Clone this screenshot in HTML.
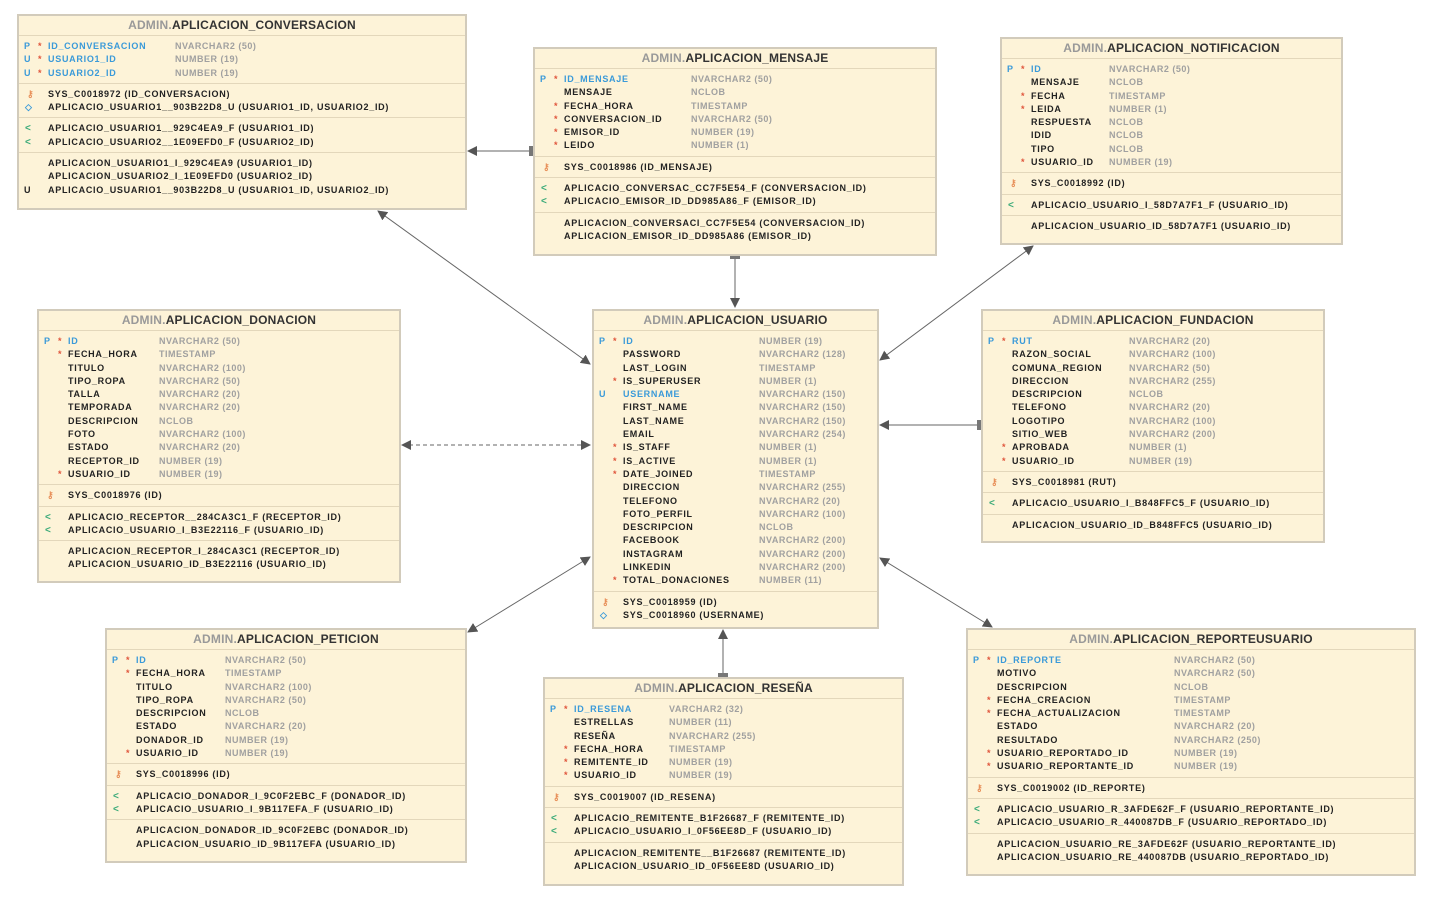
<!DOCTYPE html>
<html><head><meta charset="utf-8"><style>
body{margin:0;width:1437px;height:897px;background:#fff;position:relative;overflow:hidden;font-family:"Liberation Sans",sans-serif}
.t{position:absolute;background:#fdf3d8;border:2px solid #d2cbbb;box-sizing:border-box;font-weight:bold;font-size:9px;letter-spacing:0.72px;color:#222}
.h{height:19px;line-height:19px;text-align:center;font-size:12px;font-weight:bold;letter-spacing:0.2px;color:#333;border-bottom:1px solid #e3d7bb}
.h span{color:#999}
.s{padding:4px 0 3px;border-bottom:1px solid #e3d7bb}
.s:first-of-type{padding-top:5px}
.s:last-child{border-bottom:none}
.r{position:relative;height:13.3px;line-height:13.3px;white-space:nowrap}
.r a{position:absolute;top:0}
.f{left:5px;color:#3a9ad9}
.k{left:19px;color:#e0553c}
.n{left:29px}
.b{color:#3a9ad9}
.y{color:#a0a0a0;letter-spacing:0.5px}
.ik{left:8px;color:#e8905a;font-size:9px}
.ig{left:6px;color:#3aaa78;font-size:10px}
.iu{left:6px;color:#3a9ad9;font-size:9px}
</style></head><body>
<svg width="1437" height="897" style="position:absolute;left:0;top:0">
<defs>
<marker id="a" markerWidth="10" markerHeight="10" refX="9" refY="5" orient="auto-start-reverse" markerUnits="userSpaceOnUse"><path d="M0,0 L10,5 L0,10 z" fill="#555"/></marker>
<marker id="br" markerWidth="4" markerHeight="10" refX="2" refY="5" orient="auto" markerUnits="userSpaceOnUse"><rect x="0" y="0" width="4" height="10" fill="#777"/></marker>
</defs>
<g stroke="#666" stroke-width="1" fill="none">
<line x1="531" y1="151" x2="468" y2="151" marker-start="url(#br)" marker-end="url(#a)"/>
<line x1="378" y1="211" x2="590" y2="364" marker-start="url(#a)" marker-end="url(#a)"/>
<line x1="735" y1="257" x2="735" y2="307" marker-start="url(#br)" marker-end="url(#a)"/>
<line x1="1033" y1="246" x2="880" y2="360" marker-start="url(#a)" marker-end="url(#a)"/>
<line x1="402" y1="445" x2="590" y2="445" stroke-dasharray="4,3" marker-start="url(#a)" marker-end="url(#a)"/>
<line x1="979" y1="425" x2="880" y2="425" marker-start="url(#br)" marker-end="url(#a)"/>
<line x1="468" y1="632" x2="590" y2="557" marker-start="url(#a)" marker-end="url(#a)"/>
<line x1="723" y1="675" x2="723" y2="630" marker-start="url(#br)" marker-end="url(#a)"/>
<line x1="992" y1="627" x2="880" y2="558" marker-start="url(#a)" marker-end="url(#a)"/>
</g>
</svg>

<!-- CONVERSACION -->
<div class="t" style="left:17px;top:14px;width:450px;height:196px">
<div class="h"><span>ADMIN.</span>APLICACION_CONVERSACION</div>
<div class="s">
<div class="r"><a class="f">P</a><a class="k">*</a><a class="n b">ID_CONVERSACION</a><a class="y" style="left:156px">NVARCHAR2 (50)</a></div>
<div class="r"><a class="f">U</a><a class="k">*</a><a class="n b">USUARIO1_ID</a><a class="y" style="left:156px">NUMBER (19)</a></div>
<div class="r"><a class="f">U</a><a class="k">*</a><a class="n b">USUARIO2_ID</a><a class="y" style="left:156px">NUMBER (19)</a></div>
</div>
<div class="s">
<div class="r"><a class="ik">⚷</a><a class="n">SYS_C0018972 (ID_CONVERSACION)</a></div>
<div class="r"><a class="iu">◇</a><a class="n">APLICACIO_USUARIO1__903B22D8_U (USUARIO1_ID, USUARIO2_ID)</a></div>
</div>
<div class="s">
<div class="r"><a class="ig">&lt;</a><a class="n">APLICACIO_USUARIO1__929C4EA9_F (USUARIO1_ID)</a></div>
<div class="r"><a class="ig">&lt;</a><a class="n">APLICACIO_USUARIO2__1E09EFD0_F (USUARIO2_ID)</a></div>
</div>
<div class="s">
<div class="r"><a class="n">APLICACION_USUARIO1_I_929C4EA9 (USUARIO1_ID)</a></div>
<div class="r"><a class="n">APLICACION_USUARIO2_I_1E09EFD0 (USUARIO2_ID)</a></div>
<div class="r"><a class="f" style="color:#222">U</a><a class="n">APLICACIO_USUARIO1__903B22D8_U (USUARIO1_ID, USUARIO2_ID)</a></div>
</div>
</div>

<!-- MENSAJE -->
<div class="t" style="left:533px;top:47px;width:404px;height:209px">
<div class="h"><span>ADMIN.</span>APLICACION_MENSAJE</div>
<div class="s">
<div class="r"><a class="f">P</a><a class="k">*</a><a class="n b">ID_MENSAJE</a><a class="y" style="left:156px">NVARCHAR2 (50)</a></div>
<div class="r"><a class="n">MENSAJE</a><a class="y" style="left:156px">NCLOB</a></div>
<div class="r"><a class="k">*</a><a class="n">FECHA_HORA</a><a class="y" style="left:156px">TIMESTAMP</a></div>
<div class="r"><a class="k">*</a><a class="n">CONVERSACION_ID</a><a class="y" style="left:156px">NVARCHAR2 (50)</a></div>
<div class="r"><a class="k">*</a><a class="n">EMISOR_ID</a><a class="y" style="left:156px">NUMBER (19)</a></div>
<div class="r"><a class="k">*</a><a class="n">LEIDO</a><a class="y" style="left:156px">NUMBER (1)</a></div>
</div>
<div class="s">
<div class="r"><a class="ik">⚷</a><a class="n">SYS_C0018986 (ID_MENSAJE)</a></div>
</div>
<div class="s">
<div class="r"><a class="ig">&lt;</a><a class="n">APLICACIO_CONVERSAC_CC7F5E54_F (CONVERSACION_ID)</a></div>
<div class="r"><a class="ig">&lt;</a><a class="n">APLICACIO_EMISOR_ID_DD985A86_F (EMISOR_ID)</a></div>
</div>
<div class="s">
<div class="r"><a class="n">APLICACION_CONVERSACI_CC7F5E54 (CONVERSACION_ID)</a></div>
<div class="r"><a class="n">APLICACION_EMISOR_ID_DD985A86 (EMISOR_ID)</a></div>
</div>
</div>

<!-- NOTIFICACION -->
<div class="t" style="left:1000px;top:37px;width:343px;height:208px">
<div class="h"><span>ADMIN.</span>APLICACION_NOTIFICACION</div>
<div class="s">
<div class="r"><a class="f">P</a><a class="k">*</a><a class="n b">ID</a><a class="y" style="left:107px">NVARCHAR2 (50)</a></div>
<div class="r"><a class="n">MENSAJE</a><a class="y" style="left:107px">NCLOB</a></div>
<div class="r"><a class="k">*</a><a class="n">FECHA</a><a class="y" style="left:107px">TIMESTAMP</a></div>
<div class="r"><a class="k">*</a><a class="n">LEIDA</a><a class="y" style="left:107px">NUMBER (1)</a></div>
<div class="r"><a class="n">RESPUESTA</a><a class="y" style="left:107px">NCLOB</a></div>
<div class="r"><a class="n">IDID</a><a class="y" style="left:107px">NCLOB</a></div>
<div class="r"><a class="n">TIPO</a><a class="y" style="left:107px">NCLOB</a></div>
<div class="r"><a class="k">*</a><a class="n">USUARIO_ID</a><a class="y" style="left:107px">NUMBER (19)</a></div>
</div>
<div class="s">
<div class="r"><a class="ik">⚷</a><a class="n">SYS_C0018992 (ID)</a></div>
</div>
<div class="s">
<div class="r"><a class="ig">&lt;</a><a class="n">APLICACIO_USUARIO_I_58D7A7F1_F (USUARIO_ID)</a></div>
</div>
<div class="s">
<div class="r"><a class="n">APLICACION_USUARIO_ID_58D7A7F1 (USUARIO_ID)</a></div>
</div>
</div>

<!-- DONACION -->
<div class="t" style="left:37px;top:309px;width:364px;height:274px">
<div class="h"><span>ADMIN.</span>APLICACION_DONACION</div>
<div class="s">
<div class="r"><a class="f">P</a><a class="k">*</a><a class="n b">ID</a><a class="y" style="left:120px">NVARCHAR2 (50)</a></div>
<div class="r"><a class="k">*</a><a class="n">FECHA_HORA</a><a class="y" style="left:120px">TIMESTAMP</a></div>
<div class="r"><a class="n">TITULO</a><a class="y" style="left:120px">NVARCHAR2 (100)</a></div>
<div class="r"><a class="n">TIPO_ROPA</a><a class="y" style="left:120px">NVARCHAR2 (50)</a></div>
<div class="r"><a class="n">TALLA</a><a class="y" style="left:120px">NVARCHAR2 (20)</a></div>
<div class="r"><a class="n">TEMPORADA</a><a class="y" style="left:120px">NVARCHAR2 (20)</a></div>
<div class="r"><a class="n">DESCRIPCION</a><a class="y" style="left:120px">NCLOB</a></div>
<div class="r"><a class="n">FOTO</a><a class="y" style="left:120px">NVARCHAR2 (100)</a></div>
<div class="r"><a class="n">ESTADO</a><a class="y" style="left:120px">NVARCHAR2 (20)</a></div>
<div class="r"><a class="n">RECEPTOR_ID</a><a class="y" style="left:120px">NUMBER (19)</a></div>
<div class="r"><a class="k">*</a><a class="n">USUARIO_ID</a><a class="y" style="left:120px">NUMBER (19)</a></div>
</div>
<div class="s">
<div class="r"><a class="ik">⚷</a><a class="n">SYS_C0018976 (ID)</a></div>
</div>
<div class="s">
<div class="r"><a class="ig">&lt;</a><a class="n">APLICACIO_RECEPTOR__284CA3C1_F (RECEPTOR_ID)</a></div>
<div class="r"><a class="ig">&lt;</a><a class="n">APLICACIO_USUARIO_I_B3E22116_F (USUARIO_ID)</a></div>
</div>
<div class="s">
<div class="r"><a class="n">APLICACION_RECEPTOR_I_284CA3C1 (RECEPTOR_ID)</a></div>
<div class="r"><a class="n">APLICACION_USUARIO_ID_B3E22116 (USUARIO_ID)</a></div>
</div>
</div>

<!-- USUARIO -->
<div class="t" style="left:592px;top:309px;width:287px;height:320px">
<div class="h"><span>ADMIN.</span>APLICACION_USUARIO</div>
<div class="s">
<div class="r"><a class="f">P</a><a class="k">*</a><a class="n b">ID</a><a class="y" style="left:165px">NUMBER (19)</a></div>
<div class="r"><a class="n">PASSWORD</a><a class="y" style="left:165px">NVARCHAR2 (128)</a></div>
<div class="r"><a class="n">LAST_LOGIN</a><a class="y" style="left:165px">TIMESTAMP</a></div>
<div class="r"><a class="k">*</a><a class="n">IS_SUPERUSER</a><a class="y" style="left:165px">NUMBER (1)</a></div>
<div class="r"><a class="f">U</a><a class="n b">USERNAME</a><a class="y" style="left:165px">NVARCHAR2 (150)</a></div>
<div class="r"><a class="n">FIRST_NAME</a><a class="y" style="left:165px">NVARCHAR2 (150)</a></div>
<div class="r"><a class="n">LAST_NAME</a><a class="y" style="left:165px">NVARCHAR2 (150)</a></div>
<div class="r"><a class="n">EMAIL</a><a class="y" style="left:165px">NVARCHAR2 (254)</a></div>
<div class="r"><a class="k">*</a><a class="n">IS_STAFF</a><a class="y" style="left:165px">NUMBER (1)</a></div>
<div class="r"><a class="k">*</a><a class="n">IS_ACTIVE</a><a class="y" style="left:165px">NUMBER (1)</a></div>
<div class="r"><a class="k">*</a><a class="n">DATE_JOINED</a><a class="y" style="left:165px">TIMESTAMP</a></div>
<div class="r"><a class="n">DIRECCION</a><a class="y" style="left:165px">NVARCHAR2 (255)</a></div>
<div class="r"><a class="n">TELEFONO</a><a class="y" style="left:165px">NVARCHAR2 (20)</a></div>
<div class="r"><a class="n">FOTO_PERFIL</a><a class="y" style="left:165px">NVARCHAR2 (100)</a></div>
<div class="r"><a class="n">DESCRIPCION</a><a class="y" style="left:165px">NCLOB</a></div>
<div class="r"><a class="n">FACEBOOK</a><a class="y" style="left:165px">NVARCHAR2 (200)</a></div>
<div class="r"><a class="n">INSTAGRAM</a><a class="y" style="left:165px">NVARCHAR2 (200)</a></div>
<div class="r"><a class="n">LINKEDIN</a><a class="y" style="left:165px">NVARCHAR2 (200)</a></div>
<div class="r"><a class="k">*</a><a class="n">TOTAL_DONACIONES</a><a class="y" style="left:165px">NUMBER (11)</a></div>
</div>
<div class="s">
<div class="r"><a class="ik">⚷</a><a class="n">SYS_C0018959 (ID)</a></div>
<div class="r"><a class="iu">◇</a><a class="n">SYS_C0018960 (USERNAME)</a></div>
</div>
</div>

<!-- FUNDACION -->
<div class="t" style="left:981px;top:309px;width:344px;height:234px">
<div class="h"><span>ADMIN.</span>APLICACION_FUNDACION</div>
<div class="s">
<div class="r"><a class="f">P</a><a class="k">*</a><a class="n b">RUT</a><a class="y" style="left:146px">NVARCHAR2 (20)</a></div>
<div class="r"><a class="n">RAZON_SOCIAL</a><a class="y" style="left:146px">NVARCHAR2 (100)</a></div>
<div class="r"><a class="n">COMUNA_REGION</a><a class="y" style="left:146px">NVARCHAR2 (50)</a></div>
<div class="r"><a class="n">DIRECCION</a><a class="y" style="left:146px">NVARCHAR2 (255)</a></div>
<div class="r"><a class="n">DESCRIPCION</a><a class="y" style="left:146px">NCLOB</a></div>
<div class="r"><a class="n">TELEFONO</a><a class="y" style="left:146px">NVARCHAR2 (20)</a></div>
<div class="r"><a class="n">LOGOTIPO</a><a class="y" style="left:146px">NVARCHAR2 (100)</a></div>
<div class="r"><a class="n">SITIO_WEB</a><a class="y" style="left:146px">NVARCHAR2 (200)</a></div>
<div class="r"><a class="k">*</a><a class="n">APROBADA</a><a class="y" style="left:146px">NUMBER (1)</a></div>
<div class="r"><a class="k">*</a><a class="n">USUARIO_ID</a><a class="y" style="left:146px">NUMBER (19)</a></div>
</div>
<div class="s">
<div class="r"><a class="ik">⚷</a><a class="n">SYS_C0018981 (RUT)</a></div>
</div>
<div class="s">
<div class="r"><a class="ig">&lt;</a><a class="n">APLICACIO_USUARIO_I_B848FFC5_F (USUARIO_ID)</a></div>
</div>
<div class="s">
<div class="r"><a class="n">APLICACION_USUARIO_ID_B848FFC5 (USUARIO_ID)</a></div>
</div>
</div>

<!-- PETICION -->
<div class="t" style="left:105px;top:628px;width:362px;height:235px">
<div class="h"><span>ADMIN.</span>APLICACION_PETICION</div>
<div class="s">
<div class="r"><a class="f">P</a><a class="k">*</a><a class="n b">ID</a><a class="y" style="left:118px">NVARCHAR2 (50)</a></div>
<div class="r"><a class="k">*</a><a class="n">FECHA_HORA</a><a class="y" style="left:118px">TIMESTAMP</a></div>
<div class="r"><a class="n">TITULO</a><a class="y" style="left:118px">NVARCHAR2 (100)</a></div>
<div class="r"><a class="n">TIPO_ROPA</a><a class="y" style="left:118px">NVARCHAR2 (50)</a></div>
<div class="r"><a class="n">DESCRIPCION</a><a class="y" style="left:118px">NCLOB</a></div>
<div class="r"><a class="n">ESTADO</a><a class="y" style="left:118px">NVARCHAR2 (20)</a></div>
<div class="r"><a class="n">DONADOR_ID</a><a class="y" style="left:118px">NUMBER (19)</a></div>
<div class="r"><a class="k">*</a><a class="n">USUARIO_ID</a><a class="y" style="left:118px">NUMBER (19)</a></div>
</div>
<div class="s">
<div class="r"><a class="ik">⚷</a><a class="n">SYS_C0018996 (ID)</a></div>
</div>
<div class="s">
<div class="r"><a class="ig">&lt;</a><a class="n">APLICACIO_DONADOR_I_9C0F2EBC_F (DONADOR_ID)</a></div>
<div class="r"><a class="ig">&lt;</a><a class="n">APLICACIO_USUARIO_I_9B117EFA_F (USUARIO_ID)</a></div>
</div>
<div class="s">
<div class="r"><a class="n">APLICACION_DONADOR_ID_9C0F2EBC (DONADOR_ID)</a></div>
<div class="r"><a class="n">APLICACION_USUARIO_ID_9B117EFA (USUARIO_ID)</a></div>
</div>
</div>

<!-- RESENA -->
<div class="t" style="left:543px;top:677px;width:361px;height:209px">
<div class="h"><span>ADMIN.</span>APLICACION_RESEÑA</div>
<div class="s">
<div class="r"><a class="f">P</a><a class="k">*</a><a class="n b">ID_RESENA</a><a class="y" style="left:124px">VARCHAR2 (32)</a></div>
<div class="r"><a class="n">ESTRELLAS</a><a class="y" style="left:124px">NUMBER (11)</a></div>
<div class="r"><a class="n">RESEÑA</a><a class="y" style="left:124px">NVARCHAR2 (255)</a></div>
<div class="r"><a class="k">*</a><a class="n">FECHA_HORA</a><a class="y" style="left:124px">TIMESTAMP</a></div>
<div class="r"><a class="k">*</a><a class="n">REMITENTE_ID</a><a class="y" style="left:124px">NUMBER (19)</a></div>
<div class="r"><a class="k">*</a><a class="n">USUARIO_ID</a><a class="y" style="left:124px">NUMBER (19)</a></div>
</div>
<div class="s">
<div class="r"><a class="ik">⚷</a><a class="n">SYS_C0019007 (ID_RESENA)</a></div>
</div>
<div class="s">
<div class="r"><a class="ig">&lt;</a><a class="n">APLICACIO_REMITENTE_B1F26687_F (REMITENTE_ID)</a></div>
<div class="r"><a class="ig">&lt;</a><a class="n">APLICACIO_USUARIO_I_0F56EE8D_F (USUARIO_ID)</a></div>
</div>
<div class="s">
<div class="r"><a class="n">APLICACION_REMITENTE__B1F26687 (REMITENTE_ID)</a></div>
<div class="r"><a class="n">APLICACION_USUARIO_ID_0F56EE8D (USUARIO_ID)</a></div>
</div>
</div>

<!-- REPORTEUSUARIO -->
<div class="t" style="left:966px;top:628px;width:450px;height:248px">
<div class="h"><span>ADMIN.</span>APLICACION_REPORTEUSUARIO</div>
<div class="s">
<div class="r"><a class="f">P</a><a class="k">*</a><a class="n b">ID_REPORTE</a><a class="y" style="left:206px">NVARCHAR2 (50)</a></div>
<div class="r"><a class="n">MOTIVO</a><a class="y" style="left:206px">NVARCHAR2 (50)</a></div>
<div class="r"><a class="n">DESCRIPCION</a><a class="y" style="left:206px">NCLOB</a></div>
<div class="r"><a class="k">*</a><a class="n">FECHA_CREACION</a><a class="y" style="left:206px">TIMESTAMP</a></div>
<div class="r"><a class="k">*</a><a class="n">FECHA_ACTUALIZACION</a><a class="y" style="left:206px">TIMESTAMP</a></div>
<div class="r"><a class="n">ESTADO</a><a class="y" style="left:206px">NVARCHAR2 (20)</a></div>
<div class="r"><a class="n">RESULTADO</a><a class="y" style="left:206px">NVARCHAR2 (250)</a></div>
<div class="r"><a class="k">*</a><a class="n">USUARIO_REPORTADO_ID</a><a class="y" style="left:206px">NUMBER (19)</a></div>
<div class="r"><a class="k">*</a><a class="n">USUARIO_REPORTANTE_ID</a><a class="y" style="left:206px">NUMBER (19)</a></div>
</div>
<div class="s">
<div class="r"><a class="ik">⚷</a><a class="n">SYS_C0019002 (ID_REPORTE)</a></div>
</div>
<div class="s">
<div class="r"><a class="ig">&lt;</a><a class="n">APLICACIO_USUARIO_R_3AFDE62F_F (USUARIO_REPORTANTE_ID)</a></div>
<div class="r"><a class="ig">&lt;</a><a class="n">APLICACIO_USUARIO_R_440087DB_F (USUARIO_REPORTADO_ID)</a></div>
</div>
<div class="s">
<div class="r"><a class="n">APLICACION_USUARIO_RE_3AFDE62F (USUARIO_REPORTANTE_ID)</a></div>
<div class="r"><a class="n">APLICACION_USUARIO_RE_440087DB (USUARIO_REPORTADO_ID)</a></div>
</div>
</div>
</body></html>
